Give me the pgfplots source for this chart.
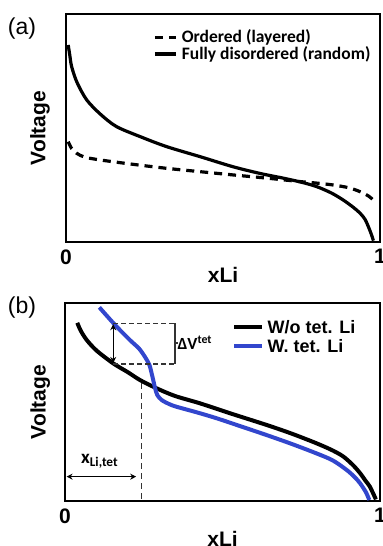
\documentclass[border=0pt]{standalone}
\usepackage{fontspec}
\setmainfont{Liberation Sans}
\newfontfamily\calfont{Carlito}
\usepackage{pgfplots}
\pgfplotsset{compat=1.18}
\usetikzlibrary{arrows.meta}
\definecolor{myblue}{RGB}{50,70,205}

\pgfplotsset{
  panel/.style={
    scale only axis, clip=false,
    xmin=0, xmax=1, ymin=0, ymax=1,
    xtick={0,1}, xticklabels={0,1}, ytick=\empty,
    major tick length=0pt,
    axis line style={line width=1.3bp},
    /pgf/number format/assume math mode=true,
    ticklabel style={font=\fontsize{21bp}{21bp}\selectfont\bfseries, yshift=-4bp},
    label style={font=\fontsize{21bp}{21bp}\selectfont\bfseries},
    xlabel={xLi}, ylabel={Voltage},
  }
}

\begin{document}
\begin{tikzpicture}[x=1bp,y=1bp]
\useasboundingbox (0,0) rectangle (382,546);

% ---------- panel (a)
\begin{axis}[panel,
  at={(66bp,304bp)}, anchor=south west,
  width=314bp, height=228bp,
  xlabel style={at={(axis description cs:0.5,-0.145)}, anchor=center},
  ylabel style={at={(axis description cs:-0.083,0.5)}, anchor=center},
  legend style={draw=none, fill=none, at={(axis description cs:0.277,0.94)}, anchor=north west,
    inner sep=0pt, row sep=-1.5bp,
    nodes={inner ysep=2bp, inner xsep=4.5bp, font=\calfont\fontsize{17.5bp}{17.5bp}\selectfont\bfseries}},
  legend cell align=left,
  legend image code/.code={\draw[#1] (0bp,0bp) -- (21bp,0bp);},
]
\addplot[black, line width=3.2bp, dash pattern=on 8bp off 6bp, smooth] coordinates {
(0.007,0.44)(0.018,0.41)(0.034,0.389)(0.06,0.372)(0.108,0.360)(0.2,0.343)(0.321,0.323)
(0.43,0.308)(0.533,0.294)(0.64,0.280)(0.745,0.265)(0.80,0.258)(0.851,0.250)(0.90,0.238)
(0.936,0.221)(0.965,0.200)(0.989,0.170)};
\addlegendentry{Ordered (layered)}
\addplot[black, line width=3.2bp, smooth] coordinates {
(0.007,0.864)(0.012,0.82)(0.018,0.769)(0.035,0.70)(0.066,0.623)(0.11,0.56)(0.161,0.506)
(0.24,0.46)(0.321,0.418)(0.43,0.373)(0.532,0.330)(0.62,0.30)(0.692,0.280)(0.75,0.262)
(0.798,0.243)(0.845,0.215)(0.883,0.184)(0.915,0.152)(0.936,0.127)(0.952,0.10)(0.963,0.067)
(0.972,0.035)(0.979,0.006)};
\addlegendentry{Fully disordered (random)}
\end{axis}

% ---------- panel (b)
\begin{axis}[panel,
  at={(65bp,45bp)}, anchor=south west,
  width=315bp, height=198bp,
  xlabel style={at={(axis description cs:0.5,-0.19)}, anchor=center},
  ylabel style={at={(axis description cs:-0.079,0.5)}, anchor=center},
  legend style={draw=none, fill=none, at={(axis description cs:0.53,0.925)}, anchor=north west,
    inner sep=0pt, row sep=0.5bp,
    nodes={inner ysep=2bp, inner xsep=3.5bp, font=\fontsize{18bp}{18bp}\selectfont\bfseries}},
  legend cell align=left,
  legend image code/.code={\draw[#1] (0bp,0bp) -- (28bp,0bp);},
]
\addplot[black, line width=4bp, smooth] coordinates {
(0.039,0.900)(0.05,0.86)(0.069,0.813)(0.10,0.76)(0.153,0.695)(0.20,0.65)(0.238,0.611)
(0.291,0.569)(0.35,0.53)(0.429,0.493)(0.53,0.44)(0.640,0.384)(0.72,0.34)(0.799,0.291)
(0.85,0.255)(0.884,0.224)(0.915,0.18)(0.937,0.140)(0.955,0.10)(0.968,0.072)(0.987,0.008)};
\addlegendentry{W/o tet. Li}
\addplot[myblue, line width=4bp, smooth] coordinates {
(0.109,0.978)(0.159,0.889)(0.206,0.813)(0.235,0.77)(0.255,0.725)(0.268,0.687)(0.275,0.645)
(0.280,0.611)(0.286,0.57)(0.293,0.535)(0.307,0.510)(0.33,0.49)(0.354,0.476)(0.42,0.447)
(0.481,0.418)(0.56,0.376)(0.640,0.333)(0.72,0.288)(0.799,0.240)(0.85,0.205)(0.894,0.157)
(0.92,0.12)(0.937,0.089)(0.955,0.045)(0.966,0.005)};
\addlegendentry{W. tet. Li}
% annotations
\draw[black!80, line width=1.2bp, dash pattern=on 5bp off 3bp]
  (axis cs:0.153,0.897) -- (axis cs:0.349,0.897)
  (axis cs:0.153,0.692) -- (axis cs:0.349,0.692);
\draw[black!80, line width=1.2bp]
  (axis cs:0.349,0.897) -- (axis cs:0.349,0.692)
  (axis cs:0.349,0.798) -- (axis cs:0.359,0.798);
\draw[black, line width=1.2bp, {Stealth[length=6bp,width=6bp]}-{Stealth[length=6bp,width=6bp]}]
  (axis cs:0.153,0.893) -- (axis cs:0.153,0.697);
\node[anchor=west, inner sep=0pt, font=\calfont\fontsize{17bp}{17bp}\selectfont\bfseries]
  at (axis cs:0.357,0.800) {ΔV\textsuperscript{tet}};
\draw[black!80, line width=1.4bp, dash pattern=on 6bp off 4bp]
  (axis cs:0.243,0.595) -- (axis cs:0.243,0);
\draw[black, line width=1.2bp, {Stealth[length=6bp,width=6bp]}-{Stealth[length=6bp,width=6bp]}]
  (axis cs:0.005,0.123) -- (axis cs:0.226,0.123);
\node[font=\calfont\fontsize{19bp}{19bp}\selectfont\bfseries, inner sep=0pt]
  at (axis cs:0.11,0.20) {x\textsubscript{Li,tet}};
\end{axis}

\node[font=\fontsize{23bp}{23bp}\selectfont] at (22,517) {(a)};
\node[font=\fontsize{23bp}{23bp}\selectfont] at (22,238) {(b)};
\end{tikzpicture}
\end{document}
